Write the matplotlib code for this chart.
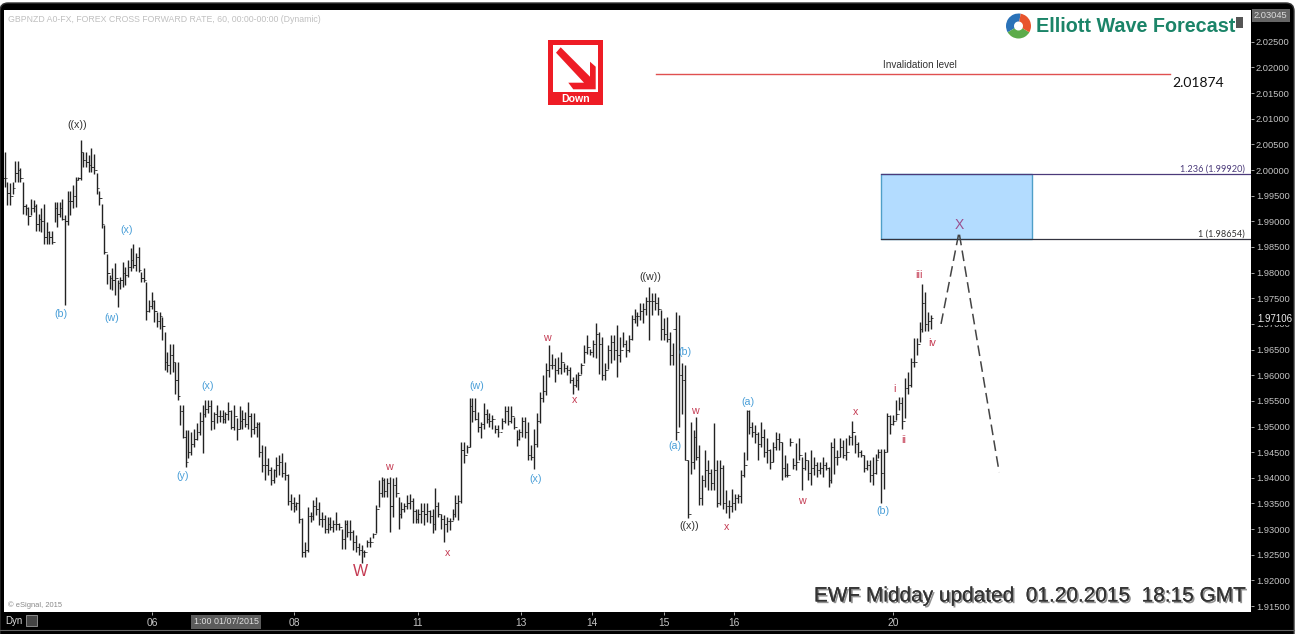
import matplotlib
matplotlib.use("Agg")
import matplotlib.pyplot as plt
import matplotlib.patheffects as pe
from matplotlib.patches import Rectangle, Polygon, Wedge, FancyBboxPatch
import numpy as np

plt.rcParams["font.family"] = ["Liberation Sans", "DejaVu Sans"]

# ========= bars, price in 1/10000 =========
high_a = [20035, 19977, 19974, 19977, 20017, 20017, 20003, 19977, 19934, 19928,
          19944, 19941, 19934, 19915, 19925, 19934, 19899, 19882, 19882, 19938,
          19938, 19938, 19944, 19912, 19960, 19960, 19970, 19986, 19986, 20059,
          20035, 20035, 20029, 20042, 20032, 19994, 19960, 19934, 19892, 19837,
          19795, 19808, 19818, 19785, 19792, 19821, 19811, 19824, 19847, 19856,
          19838, 19850, 19801, 19808, 19782, 19746, 19762, 19746, 19723, 19723,
          19713, 19684, 19645, 19661, 19661, 19626, 19626]
low_a = [19967, 19931, 19931, 19954, 19977, 19977, 19977, 19915, 19912, 19892,
         19912, 19918, 19882, 19881, 19879, 19856, 19856, 19856, 19856, 19899,
         19889, 19908, 19902, 19736, 19892, 19912, 19925, 19928, 19980, 19980,
         20006, 20006, 19996, 19996, 19993, 19954, 19931, 19886, 19837, 19778,
         19769, 19766, 19756, 19733, 19769, 19772, 19775, 19792, 19804, 19808,
         19804, 19801, 19782, 19782, 19707, 19723, 19730, 19704, 19694, 19691,
         19668, 19610, 19606, 19603, 19606, 19564, 19551]
close_a = [19985, 19955, 19950, 19965, 19995, 20000, 19985, 19930, 19925, 19910,
           19925, 19930, 19895, 19905, 19900, 19870, 19880, 19870, 19860, 19925,
           19915, 19925, 19905, 19900, 19940, 19940, 19950, 19980, 19985, 20035,
           20020, 20015, 20010, 20005, 20000, 19965, 19945, 19895, 19840, 19800,
           19790, 19785, 19790, 19780, 19785, 19800, 19795, 19810, 19825, 19815,
           19830, 19805, 19790, 19785, 19725, 19735, 19745, 19725, 19705, 19715,
           19695, 19625, 19620, 19640, 19625, 19590, 19560]

high_b = [19542, 19542, 19493, 19493, 19490, 19496, 19506, 19529, 19542, 19552,
          19552, 19552, 19529, 19542, 19532, 19532, 19529, 19548, 19532, 19542,
          19516, 19539, 19532, 19529, 19548, 19526, 19526, 19509, 19509, 19464,
          19462, 19438, 19421, 19418, 19441, 19444, 19448, 19431, 19408, 19369,
          19363, 19353, 19369, 19321, 19275, 19344, 19334, 19357, 19363, 19353,
          19334, 19327, 19324, 19324, 19318, 19334, 19311, 19301, 19318, 19318,
          19318, 19298, 19288, 19272, 19269, 19259, 19279, 19285, 19292, 19347,
          19396, 19402, 19399, 19399, 19402, 19399, 19402, 19363, 19353, 19350,
          19366, 19369, 19360, 19340, 19340, 19350, 19350, 19350, 19337, 19340,
          19381, 19353, 19330, 19327, 19324, 19321, 19340, 19366, 19366, 19470,
          19470, 19464, 19555, 19555, 19555, 19529, 19509, 19545, 19535, 19526,
          19522, 19503, 19503]
low_b = [19503, 19477, 19421, 19438, 19444, 19461, 19474, 19483, 19448, 19519,
         19526, 19493, 19496, 19506, 19509, 19506, 19506, 19513, 19496, 19493,
         19474, 19496, 19496, 19500, 19496, 19480, 19486, 19480, 19441, 19412,
         19396, 19405, 19386, 19389, 19402, 19405, 19402, 19396, 19347, 19337,
         19334, 19337, 19311, 19246, 19246, 19256, 19314, 19318, 19327, 19308,
         19305, 19292, 19292, 19298, 19295, 19298, 19298, 19262, 19262, 19285,
         19279, 19259, 19256, 19249, 19233, 19246, 19266, 19266, 19282, 19292,
         19344, 19363, 19363, 19363, 19295, 19324, 19363, 19301, 19321, 19334,
         19340, 19340, 19311, 19311, 19311, 19311, 19308, 19314, 19311, 19292,
         19298, 19324, 19301, 19275, 19295, 19298, 19318, 19324, 19318, 19350,
         19428, 19448, 19461, 19509, 19512, 19490, 19477, 19496, 19506, 19500,
         19496, 19487, 19480]
close_b = [19530, 19480, 19430, 19450, 19465, 19475, 19490, 19510, 19525, 19535,
           19540, 19510, 19525, 19520, 19520, 19515, 19525, 19530, 19500, 19520,
           19495, 19510, 19515, 19505, 19520, 19495, 19500, 19505, 19450, 19425,
           19425, 19415, 19395, 19415, 19425, 19430, 19410, 19405, 19355, 19350,
           19345, 19350, 19320, 19255, 19260, 19325, 19325, 19345, 19340, 19320,
           19320, 19300, 19310, 19305, 19310, 19310, 19305, 19280, 19310, 19295,
           19295, 19275, 19265, 19260, 19255, 19255, 19275, 19275, 19290, 19340,
           19370, 19395, 19375, 19390, 19345, 19385, 19370, 19330, 19340, 19345,
           19350, 19355, 19335, 19320, 19330, 19335, 19330, 19335, 19325, 19310,
           19345, 19330, 19320, 19310, 19315, 19315, 19330, 19350, 19355, 19455,
           19445, 19460, 19540, 19530, 19515, 19500, 19505, 19525, 19515, 19510,
           19515, 19495, 19490]

high_c = [19516, 19539, 19539, 19539, 19519, 19493, 19496, 19519, 19519, 19509,
          19464, 19496, 19526, 19568, 19600, 19623, 19659, 19642, 19633, 19636,
          19646, 19623, 19620, 19616, 19597, 19603, 19607, 19623, 19659, 19678,
          19652, 19668, 19701, 19685, 19675, 19623, 19659, 19678, 19678, 19698,
          19675, 19685, 19668, 19678, 19717, 19730, 19724, 19740, 19740, 19753,
          19771, 19760, 19760, 19753, 19727, 19711, 19714, 19685, 19662, 19724,
          19717, 19624, 19620, 19434, 19509, 19493, 19519, 19464, 19405, 19454,
          19434, 19418, 19507, 19434, 19434, 19425, 19376, 19356, 19379, 19369,
          19369, 19415, 19451, 19532]
low_c = [19496, 19506, 19503, 19506, 19496, 19462, 19473, 19480, 19477, 19434,
         19434, 19418, 19460, 19506, 19548, 19561, 19597, 19613, 19587, 19603,
         19603, 19607, 19600, 19584, 19564, 19577, 19571, 19603, 19623, 19642,
         19639, 19636, 19633, 19603, 19590, 19590, 19613, 19623, 19630, 19597,
         19626, 19655, 19636, 19646, 19668, 19701, 19695, 19707, 19701, 19717,
         19668, 19717, 19727, 19717, 19668, 19668, 19665, 19620, 19620, 19473,
         19500, 19525, 19434, 19321, 19408, 19418, 19434, 19347, 19347, 19382,
         19376, 19376, 19376, 19344, 19347, 19340, 19331, 19321, 19334, 19337,
         19350, 19350, 19402, 19434]
close_c = [19510, 19530, 19510, 19520, 19500, 19475, 19490, 19510, 19490, 19445,
           19440, 19465, 19510, 19555, 19570, 19610, 19620, 19620, 19610, 19615,
           19625, 19615, 19610, 19590, 19580, 19590, 19600, 19620, 19645, 19655,
           19645, 19660, 19680, 19660, 19600, 19610, 19650, 19665, 19650, 19640,
           19650, 19660, 19650, 19670, 19710, 19715, 19715, 19725, 19730, 19745,
           19745, 19745, 19740, 19730, 19690, 19680, 19670, 19640, 19690, 19490,
           19600, 19590, 19435, 19330, 19430, 19480, 19440, 19360, 19395, 19415,
           19410, 19390, 19415, 19350, 19420, 19350, 19345, 19345, 19350, 19360,
           19365, 19405, 19425, 19530]

high_d = [19532, 19509, 19503, 19490, 19509, 19496, 19477, 19457, 19470, 19490,
          19488, 19470, 19444, 19428, 19478, 19438, 19467, 19477, 19441, 19451,
          19434, 19454, 19441, 19431, 19431, 19441, 19431, 19421, 19470, 19477,
          19454, 19477, 19473, 19477, 19483, 19511, 19483, 19470, 19454, 19444,
          19434, 19434, 19441, 19447, 19457, 19457, 19457, 19527, 19522, 19522,
          19551, 19558, 19558, 19594, 19607, 19633, 19672, 19672, 19704, 19778,
          19763, 19724, 19717]
low_d = [19486, 19480, 19467, 19434, 19460, 19441, 19428, 19418, 19431, 19454,
         19454, 19396, 19402, 19402, 19462, 19418, 19415, 19434, 19376, 19415,
         19396, 19386, 19405, 19402, 19408, 19402, 19415, 19382, 19389, 19408,
         19425, 19441, 19438, 19434, 19464, 19464, 19449, 19441, 19441, 19412,
         19415, 19392, 19386, 19408, 19438, 19350, 19379, 19451, 19486, 19503,
         19512, 19532, 19496, 19516, 19564, 19577, 19616, 19639, 19665, 19685,
         19687, 19687, 19691]
close_d = [19500, 19490, 19485, 19465, 19480, 19450, 19455, 19430, 19460, 19475,
           19470, 19420, 19405, 19405, 19470, 19425, 19430, 19445, 19420, 19435,
           19410, 19420, 19425, 19415, 19420, 19425, 19420, 19395, 19460, 19440,
           19440, 19460, 19445, 19450, 19480, 19490, 19465, 19450, 19445, 19420,
           19425, 19405, 19410, 19435, 19450, 19410, 19450, 19520, 19505, 19510,
           19525, 19545, 19510, 19575, 19580, 19625, 19625, 19660, 19690, 19740,
           19700, 19705, 19711]

# hour of first and last bar of each stretch
section_hours = [(-0.1, 58.6), (59.3, 167.1), (168.4, 251.4), (252.3, 314.0)]

# ========= levels and axis =========
date_ticks = [49.8, 98, 140, 175, 199, 223.4, 247, 301]
date_labels = ["06", "08", "11", "13", "14", "15", "16", "20"]
price_ticks = [1.915 + 0.005 * i for i in range(23)]
invalidation = 2.01874
fib_100 = 1.98654
fib_1236 = 1.99920
last_price = 1.97106
top_price = 2.03045
proj_hours = [317.3, 323.4, 337.0]
proj_prices = [1.9700, 1.9879, 1.9411]

PX_HOUR = 2.95
BAR_COL = "#222222"
LIGHT = "#c4c4c4"
BLUE = "#4a9fd8"
RED = "#c43a52"

fig = plt.figure(figsize=(13, 6.34), dpi=100, facecolor="white")


def full_axes(z):
    a = fig.add_axes([0, 0, 1, 1], zorder=z)
    a.set_xlim(0, 1300)
    a.set_ylim(634, 0)
    a.axis("off")
    return a


# ========= black frame behind the chart =========
bg = full_axes(0)
bg.add_patch(FancyBboxPatch((3, 6), 1288, 640, boxstyle="round,pad=3,rounding_size=8",
                            fc="black", ec="#333333", lw=1))
bg.plot([0, 1294], [630, 630], color="#666666", lw=0.8)

# ========= price chart =========
ax = fig.add_axes([4 / 1300, 22 / 634, 1247 / 1300, 602 / 634], zorder=1, facecolor="white")
ax.set_xlim((4 - 5) / PX_HOUR, (1251 - 5) / PX_HOUR)
ax.set_ylim(2 - (612 - 170) / 5130, 2 + 160 / 5130)
for s in ax.spines.values():
    s.set_visible(False)

sections = [(high_a, low_a, close_a), (high_b, low_b, close_b),
            (high_c, low_c, close_c), (high_d, low_d, close_d)]
prev_close = close_a[0]
for (h0, h1), (high, low, close) in zip(section_hours, sections):
    t = np.linspace(h0, h1, len(high))
    hi = np.array(high) / 10000
    lo = np.array(low) / 10000
    cl = np.array(close) / 10000
    op = np.r_[prev_close / 10000, cl[:-1]]
    prev_close = close[-1]
    ax.vlines(t, lo, hi, color=BAR_COL, lw=1.0)
    ax.hlines(cl, t, t + 0.5, color=BAR_COL, lw=0.6)
    ax.hlines(op, t - 0.5, t, color=BAR_COL, lw=0.6)

# target box, fib lines, invalidation
ax.add_patch(Rectangle((297, fib_100), 51.1, fib_1236 - fib_100, fc="#b3dcff", ec="#4f9fc8", lw=1, zorder=2))
ax.plot([297, 423], [fib_1236, fib_1236], color="#4b3a7a", lw=0.9, zorder=3)
ax.plot([297, 423], [fib_100, fib_100], color="#33333f", lw=0.9, zorder=3)
ax.plot([220.7, 395], [invalidation, invalidation], color="#e05050", lw=1, zorder=3)
ax.plot(proj_hours, proj_prices, color="#444444", lw=1.1, dashes=(7, 3.5), zorder=4)

ax.yaxis.tick_right()
ax.set_yticks(price_ticks)
ax.set_yticklabels([f"{p:.5f}" for p in price_ticks], color=LIGHT, fontsize=6.7)
ax.tick_params(axis="y", length=2, width=0.6, color=LIGHT, pad=1.5)
ax.set_xticks(date_ticks)
ax.set_xticklabels(date_labels, color=LIGHT, fontsize=7.4)
ax.tick_params(axis="x", length=2, width=0.6, color=LIGHT, pad=2.2)

# ========= everything written on top =========
ov = full_axes(2)
ov.patch.set_alpha(0)

wave_black = [("((x))", 77, 125), ("((w))", 650, 277), ("((x))", 689, 526)]
wave_blue = [("(b)", 61, 314), ("(w)", 112, 318), ("(x)", 127, 230), ("(y)", 183, 476),
             ("(x)", 208, 386), ("(w)", 477, 386), ("(x)", 536, 479), ("(a)", 675, 446),
             ("(b)", 685, 352), ("(a)", 748, 402), ("(b)", 883, 511)]
wave_red = [("w", 389, 467), ("x", 448, 553), ("w", 547, 338), ("x", 575, 400),
            ("w", 695, 411), ("x", 727, 527), ("w", 802, 501), ("x", 856, 412),
            ("i", 894, 389), ("ii", 904, 440), ("iii", 919, 275), ("iv", 932, 343)]
for labels, col in [(wave_black, "#333333"), (wave_blue, BLUE), (wave_red, RED)]:
    for txt, x, y in labels:
        ov.text(x, y, txt, color=col, fontsize=7.7, ha="center", va="center")
ov.text(360, 572, "W", color=RED, fontsize=11.5, ha="center", va="center")
ov.text(959, 225, "X", color="#9a4f8e", fontsize=10, ha="center", va="center")

ov.text(920, 65.5, "Invalidation level", color="#333333", fontsize=7.2, ha="center", va="center")
ov.text(1198, 83, "2.01874", color="#111111", fontsize=10, family="Lato", ha="center", va="center")
ov.text(1245, 169, "1.236 (1.99920)", color="#4b3a7a", fontsize=6.6, family="Lato", ha="right", va="center")
ov.text(1245, 234, "1 (1.98654)", color="#333333", fontsize=6.6, family="Lato", ha="right", va="center")

ov.text(8, 19.5, "GBPNZD A0-FX, FOREX CROSS FORWARD RATE, 60, 00:00-00:00 (Dynamic)",
        color="#c0c0c0", fontsize=6.3, va="center")
ov.text(8, 605, "\u00a9 eSignal, 2015", color="#888888", fontsize=5.4, va="center")
ov.text(5, 620.5, "Dyn", color="#dddddd", fontsize=7, va="center")
ov.add_patch(Rectangle((26, 615), 11, 11, fc="#444444", ec="#999999", lw=0.6))
ov.text(226, 622, "1:00 01/07/2015", color="#e0e0e0", fontsize=6.4, ha="center", va="center",
        bbox=dict(fc="#5c5c5c", ec="none", boxstyle="square,pad=0.3"))

# last price boxes on the scale
ov.text(1254, 15.5, "2.03045", color="#dddddd", fontsize=6.7, va="center",
        bbox=dict(fc="#666666", ec="none", boxstyle="square,pad=0.22"))
ov.text(1257, 319.5, "1.97106", color="#f0f0f0", fontsize=6.9, va="center",
        bbox=dict(fc="black", ec="none", boxstyle="square,pad=0.1"))

# stamp at the bottom
ov.text(1247, 596, "EWF Midday updated  01.20.2015  18:15 GMT", color="#333333", fontsize=15.0,
        ha="right", va="center",
        path_effects=[pe.withSimplePatchShadow(offset=(1.2, -1.2), shadow_rgbFace="#777777", alpha=0.8),
                      pe.Normal()])

# Down icon
ov.add_patch(Rectangle((548, 40), 55, 65, fc="#ee1c25", ec="none"))
ov.add_patch(Rectangle((553, 45), 45, 47, fc="white", ec="none"))
ov.add_patch(Polygon([(560.7, 47.3), (590, 76.7), (590, 61.7), (595.7, 66.7), (595.7, 89.3),
                      (573.3, 89.3), (568.3, 82.7), (584, 82.7), (556, 52.7)], fc="#ee1c25", ec="none"))
ov.text(575.5, 98.5, "Down", color="white", fontsize=7.6, fontweight="bold", ha="center", va="center")

# logo
ov.add_patch(Wedge((1018.5, 26), 12.5, 150, 280, width=8, fc="#2a72b8", ec="none"))
ov.add_patch(Wedge((1018.5, 26), 12.5, 30, 150, width=8, fc="#5cab4a", ec="none"))
ov.add_patch(Wedge((1018.5, 26), 12.5, 280, 390, width=8, fc="#e8552d", ec="none"))
ov.text(1036, 26.5, "Elliott Wave Forecast", color="#1b8468", fontsize=14.2, fontweight="bold", va="center")
ov.add_patch(Rectangle((1236, 17), 7, 11, fc="#555555", ec="none"))

fig.savefig("out.png", dpi=100, facecolor=fig.get_facecolor())
